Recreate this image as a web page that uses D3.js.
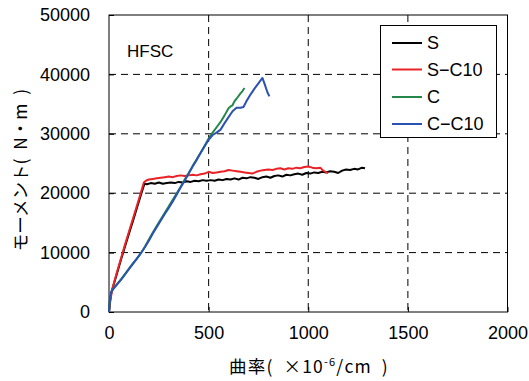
<!DOCTYPE html>
<html><head><meta charset="utf-8">
<script src="https://cdn.jsdelivr.net/npm/d3@7"></script>
<style>html,body{margin:0;padding:0;background:#fff;}svg{display:block;}</style>
</head><body>
<script>
// ---- data ----
const seriesNames = ["S", "S-C10", "C", "C-C10"];
const seriesColors = ["#000000", "#ea2226", "#26874a", "#2a52b0"];
const xTicks = [0, 500, 1000, 1500, 2000];
const yTicks = [0, 10000, 20000, 30000, 40000, 50000];

const S_curv = [0,5,12,20,40,60,80,100,120,140,160,178,190,210,230,250,270,290,310,330,350,370,390,410,430,450,470,490,510,530,550,570,590,610,630,650,670,690,710,730,750,770,790,810,830,850,870,890,910,930,950,970,990,1010,1030,1050,1070,1090,1110,1130,1150,1170,1190,1210,1230,1250,1270,1285];
const S_mom  = [0,1800,3300,4200,6500,8800,11000,13200,15300,17500,19700,21600,21500,21700,21600,21800,21600,21700,21800,21700,21900,21800,22000,21900,22100,22000,22200,22100,22200,22100,22300,22200,22400,22300,22500,22300,22600,22500,22700,22600,22400,22700,22800,22600,22900,23000,22800,23100,23000,23200,23300,23100,23400,23300,23500,23400,23600,23500,23700,23600,23400,23800,24000,23900,24100,24000,24300,24200];

const SC10_curv = [0,5,12,20,40,60,80,100,120,140,160,175,185,200,220,240,260,280,300,320,340,360,380,400,420,440,460,480,500,520,540,560,580,600,620,640,660,680,700,720,740,760,780,800,820,840,860,880,900,920,940,960,980,1000,1020,1040,1060,1075,1090,1100];
const SC10_mom  = [0,1500,3000,4300,6700,9000,11300,13500,15700,17900,20100,21800,22100,22300,22400,22500,22600,22700,22800,22700,22900,23000,22900,23000,23100,23000,23200,23300,23600,23400,23500,23600,23700,23900,23800,23700,23600,23500,23400,23300,23600,23800,23900,24000,23900,24100,24200,24000,24200,24100,24300,24200,24400,24500,24300,24200,24300,23800,23500,23400];

const C_curv = [0,5,10,20,40,60,80,100,120,140,160,180,200,220,240,260,280,300,320,340,360,380,400,420,440,460,480,500,520,540,560,580,600,610,620,630,640,660,670,680];
const C_mom  = [0,2000,3200,3900,4700,5500,6400,7300,8200,9000,9900,11000,12200,13400,14500,15600,16700,17800,18900,20000,21100,22300,23400,24600,25700,26800,28000,29200,30200,31100,32000,33100,34300,34600,34800,35500,35900,36800,37200,37700];

const CC10_curv = [0,5,10,20,40,60,80,100,120,140,160,180,200,220,240,260,280,300,320,340,360,380,400,420,440,460,480,500,520,540,560,580,600,620,640,660,675,690,710,730,750,770,780,795,805];
const CC10_mom  = [0,2200,3300,3800,4600,5400,6300,7200,8100,9000,9900,10900,12000,13200,14300,15400,16500,17500,18600,19800,21000,22100,23300,24500,25600,26800,27900,29000,29800,30200,30700,31800,32800,33800,34400,34400,34500,35500,36600,37600,38500,39400,38500,37000,36300];

// ---- layout ----
const W = 529, H = 381;
const svg = d3.select("body").append("svg").attr("width", W).attr("height", H);
const L = 109, R = 507.5, T = 15, B = 312;
const x = d3.scaleLinear().domain([0, 2000]).range([L, R]);
const y = d3.scaleLinear().domain([0, 50000]).range([B, T]);
const numFont = "'Liberation Sans', Arial, sans-serif";
const jpFont = "'Noto Sans CJK JP', sans-serif";

// gridlines
const grid = svg.append("g");
grid.selectAll("line.gx").data(xTicks.filter(d => d > 0 && d < 2000)).enter().append("line")
  .attr("x1", d => x(d)).attr("x2", d => x(d)).attr("y1", T).attr("y2", B)
  .attr("stroke", "#000").attr("stroke-width", 1).attr("stroke-dasharray", "7,5");
grid.selectAll("line.gy").data(yTicks.filter(d => d > 0 && d < 50000)).enter().append("line")
  .attr("y1", d => y(d)).attr("y2", d => y(d)).attr("x1", L).attr("x2", R)
  .attr("stroke", "#000").attr("stroke-width", 1).attr("stroke-dasharray", "7,5");

// axes
const xAxis = d3.axisBottom(x).tickValues(xTicks).tickSize(-5).tickPadding(14).tickFormat(d3.format("d"));
const gx = svg.append("g").attr("transform", `translate(0,${B})`).call(xAxis);
const yAxis = d3.axisLeft(y).tickValues(yTicks).tickSize(-5).tickPadding(19).tickFormat(d3.format("d"));
const gy = svg.append("g").attr("transform", `translate(${L},0)`).call(yAxis);
[gx, gy].forEach(g => {
  g.select(".domain").remove();
  g.selectAll("line").attr("stroke", "#000");
  g.selectAll("text").attr("font-family", numFont).attr("font-size", 18).attr("fill", "#000");
});

// frame
svg.append("rect").attr("x", L).attr("y", T).attr("width", R - L).attr("height", B - T)
  .attr("fill", "none").attr("stroke", "#000").attr("stroke-width", 1);

// series
const data = [
  [S_curv, S_mom], [SC10_curv, SC10_mom], [C_curv, C_mom], [CC10_curv, CC10_mom]
];
const line = d3.line().x(d => x(d[0])).y(d => y(d[1]));
data.forEach((s, i) => {
  const pts = s[0].map((c, j) => [c, s[1][j]]);
  svg.append("path").datum(pts).attr("d", line).attr("fill", "none")
    .attr("stroke", seriesColors[i]).attr("stroke-width", 2).attr("stroke-linejoin", "round");
});

// HFSC label
svg.append("text").attr("x", 127).attr("y", 57).attr("font-family", numFont).attr("font-size", 17).text("HFSC");

// legend
const lg = svg.append("g");
lg.append("rect").attr("x", 380.5).attr("y", 25.5).attr("width", 116).attr("height", 112)
  .attr("fill", "#fff").attr("stroke", "#000").attr("stroke-width", 1);
const legY = [43, 69.5, 97, 124];
seriesNames.forEach((n, i) => {
  lg.append("line").attr("x1", 392).attr("x2", 422).attr("y1", legY[i]).attr("y2", legY[i])
    .attr("stroke", seriesColors[i]).attr("stroke-width", 2);
  lg.append("text").attr("x", 427).attr("y", legY[i]).attr("dy", "0.36em")
    .attr("font-family", numFont).attr("font-size", 18).text(n.replace("-", "\u2212"));
});

// axis titles
const xt = svg.append("text").attr("x", 309).attr("y", 373).attr("text-anchor", "middle")
  .attr("font-family", jpFont).attr("font-size", 17.5).attr("letter-spacing", 1.2);
xt.append("tspan").text("曲率(\u2002×10");
xt.append("tspan").attr("font-size", 11).attr("dy", -7).text("-6");
xt.append("tspan").attr("dy", 7).text("/cm\u2002)");

svg.append("text").attr("transform", "translate(27,170) rotate(-90)").attr("text-anchor", "middle")
  .attr("font-family", jpFont).attr("font-size", 17.5).text("モーメント(\u2002N・m\u2002)");
</script>
</body></html>
